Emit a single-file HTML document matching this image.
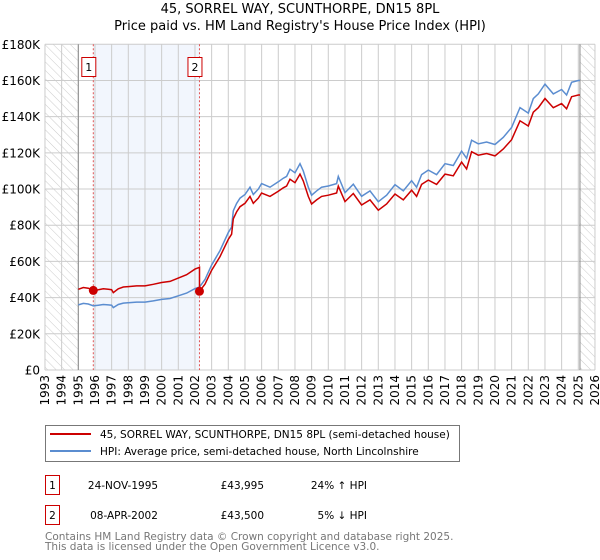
<!DOCTYPE html>
<html><head><meta charset="utf-8"><style>
body{margin:0;background:#fff;}
svg{display:block;font-family:"DejaVu Sans","Liberation Sans",sans-serif;}
</style></head><body>
<svg id="chart" width="600" height="560" viewBox="0 0 600 560">
<defs>
<pattern id="hatch" width="6" height="6" patternUnits="userSpaceOnUse" patternTransform="rotate(-45)">
<line x1="0" y1="0" x2="0" y2="6" stroke="#ccc" stroke-width="1"/>
</pattern>
</defs>
<text x="300" y="13" text-anchor="middle" font-size="13" fill="#000">45, SORREL WAY, SCUNTHORPE, DN15 8PL</text>
<text x="300" y="30" text-anchor="middle" font-size="13" fill="#000">Price paid vs. HM Land Registry's House Price Index (HPI)</text>
<g id="plot"></g>
<g>
<rect x="45.5" y="425.5" width="414" height="36" fill="#fff" stroke="#777"/>
<line x1="50" y1="434" x2="91" y2="434" stroke="#cc0000" stroke-width="2"/>
<text x="100" y="438" font-size="10.5">45, SORREL WAY, SCUNTHORPE, DN15 8PL (semi-detached house)</text>
<line x1="50" y1="451" x2="91" y2="451" stroke="#5b8dd0" stroke-width="2"/>
<text x="100" y="455" font-size="10.5">HPI: Average price, semi-detached house, North Lincolnshire</text>
</g>
<g>
<rect x="45.5" y="475.5" width="14" height="19" fill="#fff" stroke="#cc0000"/>
<text x="52.5" y="489" text-anchor="middle" font-size="10.5">1</text>
<text x="123" y="489" text-anchor="middle" font-size="10.5">24-NOV-1995</text>
<text x="264" y="489" text-anchor="end" font-size="10.5">£43,995</text>
<text x="367" y="489" text-anchor="end" font-size="10.5">24% ↑ HPI</text>
<rect x="45.5" y="505.5" width="14" height="19" fill="#fff" stroke="#cc0000"/>
<text x="52.5" y="519" text-anchor="middle" font-size="10.5">2</text>
<text x="124" y="519" text-anchor="middle" font-size="10.5">08-APR-2002</text>
<text x="264" y="519" text-anchor="end" font-size="10.5">£43,500</text>
<text x="367" y="519" text-anchor="end" font-size="10.5">5% ↓ HPI</text>
</g>
<text x="45" y="540" font-size="10.5" fill="#777">Contains HM Land Registry data © Crown copyright and database right 2025.</text>
<text x="45" y="550" font-size="10.5" fill="#777">This data is licensed under the Open Government Licence v3.0.</text>
</svg>
<script>
const yearTicks=[1993,1994,1995,1996,1997,1998,1999,2000,2001,2002,2003,2004,2005,2006,2007,2008,2009,2010,2011,2012,2013,2014,2015,2016,2017,2018,2019,2020,2021,2022,2023,2024,2025,2026];
const valueTicks=[0,20000,40000,60000,80000,100000,120000,140000,160000,180000];
const valueTickLabels=["£0","£20K","£40K","£60K","£80K","£100K","£120K","£140K","£160K","£180K"];
const hpiYears=[1995.0,1995.3,1995.6,1995.9,1996.2,1996.5,1996.8,1997.0,1997.1,1997.4,1997.7,1998.0,1998.5,1999.0,1999.5,2000.0,2000.5,2001.0,2001.5,2002.0,2002.27,2002.6,2003.0,2003.5,2004.0,2004.2,2004.3,2004.5,2004.7,2005.0,2005.3,2005.5,2005.8,2006.0,2006.5,2007.0,2007.3,2007.5,2007.7,2008.0,2008.3,2008.5,2008.8,2009.0,2009.3,2009.6,2010.0,2010.5,2010.6,2011.0,2011.5,2012.0,2012.5,2013.0,2013.5,2014.0,2014.5,2015.0,2015.3,2015.6,2016.0,2016.5,2017.0,2017.5,2018.0,2018.3,2018.6,2019.0,2019.5,2020.0,2020.5,2021.0,2021.5,2022.0,2022.3,2022.6,2023.0,2023.5,2024.0,2024.3,2024.6,2025.0,2025.1];
const hpiValues=[36000,36800,36500,35500,35800,36200,36000,35800,34500,36200,37000,37200,37500,37500,38200,39000,39500,41000,42500,45000,45800,50000,58000,66000,76000,79000,88000,92000,95000,97000,101000,97000,100000,103000,101000,104000,106000,107000,111000,109000,114000,110000,101000,96600,99000,101000,101700,103000,107000,98000,102700,96000,99000,93000,96600,102400,99000,104600,101000,108000,110500,108000,114000,113000,121000,117000,127000,125000,126000,124600,128600,134000,145000,142000,150000,152600,158000,152600,155000,152000,159000,160000,160000];
const saleYears=[1995.9,2002.27];
const salePrices=[43995,43500];
const saleLabels=["1","2"];

const NS="http://www.w3.org/2000/svg";
const X0=78.3,X1=578.3,Y0=370,Y1=44.3;
const xs=y=>X0+(y-1995)*(X1-X0)/30;
const ys=v=>Y0-v*(Y0-Y1)/180000;
const plot=document.getElementById('plot');
function mk(tag,attrs,parent){const e=document.createElementNS(NS,tag);for(const k in attrs)e.setAttribute(k,attrs[k]);(parent||plot).appendChild(e);return e;}
const xl=xs(1993),xr=xs(2026);
let h1=mk('rect',{x:xl,y:Y1,width:xs(1995)-xl,height:Y0-Y1,fill:'url(#hatch)'});


let h2=mk('rect',{x:xs(2025.1),y:Y1,width:xr-xs(2025.1),height:Y0-Y1,fill:'url(#hatch)'});


let sh=mk('rect',{x:xs(saleYears[0]),y:Y1,width:xs(saleYears[1])-xs(saleYears[0]),height:Y0-Y1,fill:'#eef3fc',opacity:0.75});


yearTicks.forEach(yr=>{
 const l=mk('line',{x1:xs(yr),x2:xs(yr),y1:Y1,y2:Y0,stroke:'#ccc','stroke-width':1});
 
 
 const t=mk('text',{x:0,y:0,'font-size':12,'text-anchor':'end',transform:`translate(${xs(yr)+4},${Y0+5}) rotate(-90)`});
 t.textContent=yr;
 
 
});
valueTicks.forEach((v,i)=>{
 const l=mk('line',{x1:xl,x2:xr,y1:ys(v),y2:ys(v),stroke:'#ccc','stroke-width':1});
 
 
 const t=mk('text',{x:40,y:ys(v)+4.5,'font-size':12,'text-anchor':'end'});
 t.textContent=valueTickLabels[i];
 
 
});
const b1=mk('line',{x1:xs(1995),x2:xs(1995),y1:Y1,y2:Y0,stroke:'#888'});


const b2=mk('line',{x1:xs(2025.1),x2:xs(2025.1),y1:Y1,y2:Y0,stroke:'#888'});


saleYears.forEach((sy,i)=>{
 const l=mk('line',{x1:xs(sy),x2:xs(sy),y1:Y1,y2:Y0,stroke:'#e05555','stroke-dasharray':'2,2'});
 
 
});
function hpiAt(y){for(let i=0;i<hpiYears.length-1;i++){if(y>=hpiYears[i]&&y<=hpiYears[i+1]){const f=(y-hpiYears[i])/(hpiYears[i+1]-hpiYears[i]);return hpiValues[i]+f*(hpiValues[i+1]-hpiValues[i]);}}return hpiValues[hpiValues.length-1];}
const redPts=[];
hpiYears.forEach((yr,i)=>{
 let k=0;for(let j=0;j<saleYears.length;j++)if(yr>=saleYears[j])k=j;
 if(yr>=saleYears[1]-0.001&&yr<saleYears[1]+0.001){
   redPts.push([yr,salePrices[0]*hpiAt(yr)/hpiAt(saleYears[0])]);
 }
 redPts.push([yr,salePrices[k]*hpiValues[i]/hpiAt(saleYears[k])]);
});
const hp=mk('path',{d:hpiYears.map((y,i)=>(i?'L':'M')+xs(y).toFixed(1)+','+ys(hpiValues[i]).toFixed(1)).join(''),fill:'none',stroke:'#5b8dd0','stroke-width':1.5});


const rp=mk('path',{d:redPts.map((p,i)=>(i?'L':'M')+xs(p[0]).toFixed(1)+','+ys(p[1]).toFixed(1)).join(''),fill:'none',stroke:'#cc0000','stroke-width':1.5});


saleYears.forEach((sy,i)=>{
 const c=mk('circle',{cx:xs(sy),cy:ys(salePrices[i]),r:4.5,fill:'#cc0000'});
 
 
 const r=mk('rect',{x:xs(sy)-11.5,y:57.5,width:14,height:19,fill:'#fff',stroke:'#cc0000'});
 
 
 const t=mk('text',{x:xs(sy)-4.5,y:71,'font-size':11,'text-anchor':'middle'});
 t.textContent=saleLabels[i];
 
 
});
</script>
</body></html>
